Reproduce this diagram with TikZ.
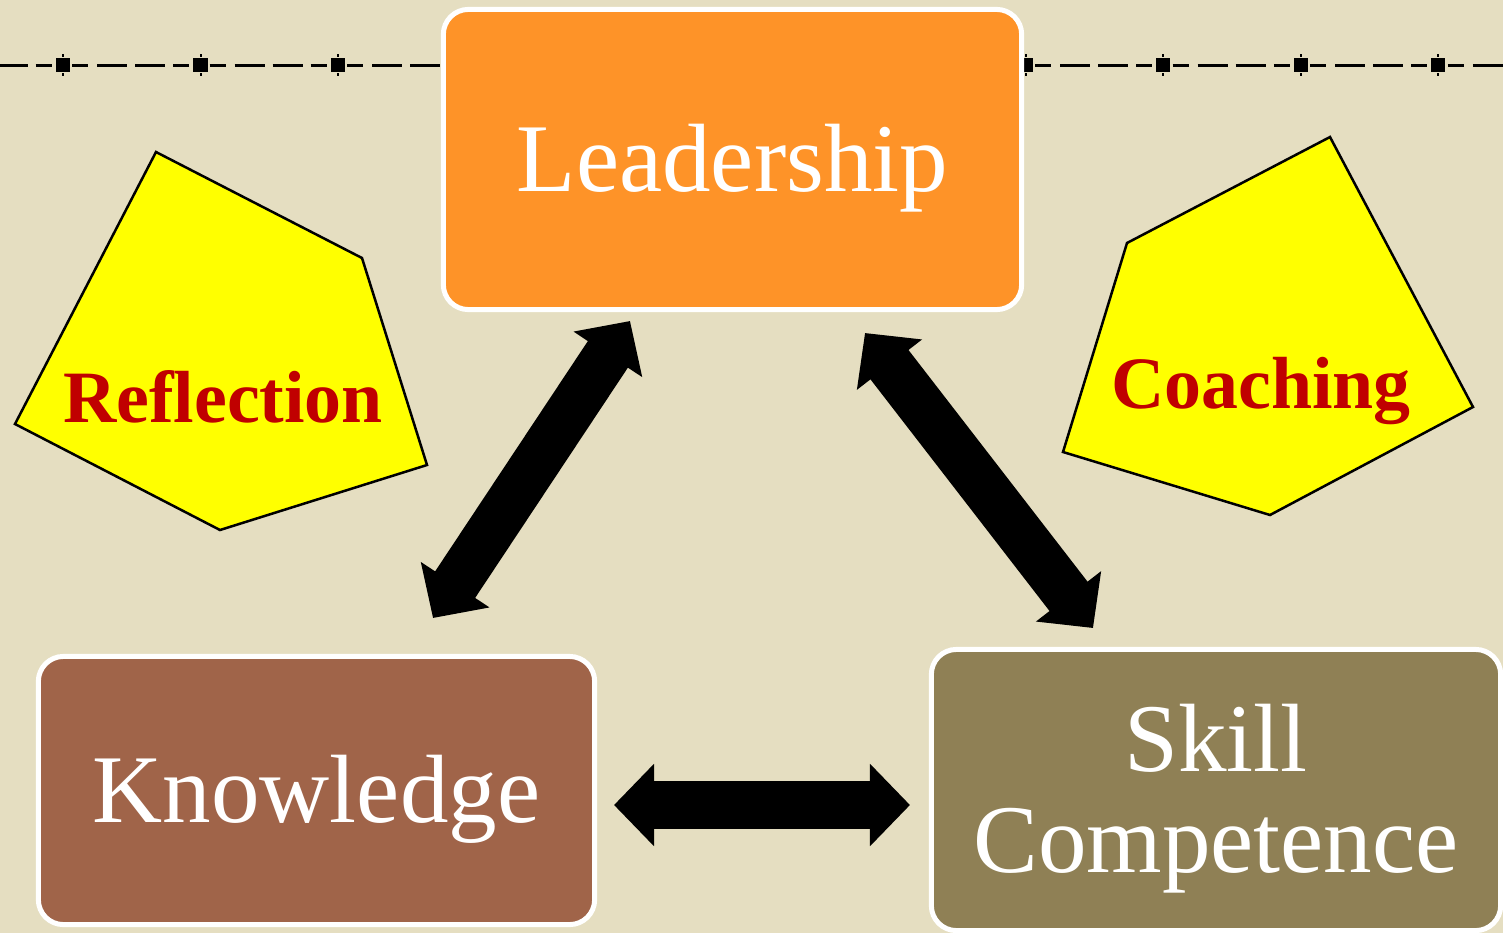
\documentclass[tikz,border=0pt]{standalone}
\usepackage{fontspec}
\setmainfont{Liberation Serif}
\usetikzlibrary{arrows.meta}
\definecolor{paper}{RGB}{229,222,193}
\definecolor{leadorange}{RGB}{254,147,40}
\definecolor{knowbrown}{RGB}{160,100,73}
\definecolor{skillolive}{RGB}{143,128,85}
\definecolor{tagred}{RGB}{192,0,0}
\definecolor{pentyellow}{RGB}{255,255,0}
\tikzset{box/.style={draw=white, line width=0.05cm, rounded corners=0.25cm, text=white, align=center, inner sep=0pt, text depth=1pt, font=\fontsize{27.6}{28.5}\selectfont}}
\tikzset{twoway/.style={line width=0.48cm, {Triangle[width=0.8cm,length=0.4cm]}-{Triangle[width=0.8cm,length=0.4cm]}}}
\tikzset{pentagon/.style={draw=black, line width=0.025cm, fill=pentyellow, line join=miter}}
\tikzset{tag/.style={text=tagred, anchor=base, inner sep=0pt, font=\fontsize{21}{22}\selectfont\bfseries}}
\tikzset{rule/.style={line width=0.03cm, dash pattern=on 0.16cm off 0.09cm on 0.3cm off 0.08cm on 0.3cm off 0.08cm on 0.16cm off 0.205cm, dash phase=0.655cm}}
\tikzset{tick/.style={fill=black, inner sep=0pt, minimum width=0.02cm, minimum height=0.03cm}}
\tikzset{marker/.style={fill=black, inner sep=0pt, minimum size=0.14cm, label distance=0.02cm, label={[tick]above:{}}, label={[tick]below:{}}}}

\begin{document}
\begin{tikzpicture}[x=0.01cm, y=-0.01cm]
	% Page
	\useasboundingbox (0,0) rectangle (1503,933);
	\fill[paper] (0,0) rectangle (1503,933);

	% TOP RULE
	\coordinate (ruleleft) at (0,65);		\coordinate (ruleright) at (1503,65);
	\draw[rule] (ruleleft) -- (ruleright);
	\node[marker] (mk1) at (63,65) {};		\node[marker] (mk2) at (200.5,65) {};	\node[marker] (mk3) at (338,65) {};
	\node[marker] (mk4) at (1025.5,65) {};	\node[marker] (mk5) at (1163,65) {};	\node[marker] (mk6) at (1300.5,65) {};
	\node[marker] (mk7) at (1438,65) {};

	% BOXES
	\node[box, fill=leadorange, minimum width=5.78cm, minimum height=3cm] (lead) at (732.5,159.5) {Leadership};
	\node[box, fill=knowbrown, minimum width=5.56cm, minimum height=2.68cm] (know) at (316.5,790.5) {Knowledge};
	\node[box, fill=skillolive, minimum width=5.69cm, minimum height=2.81cm] (skill) at (1216,790) {Skill\\Competence};

	% PENTAGONS
	\draw[pentagon] (156,152) -- (362,258) -- (427,465) -- (220,530) -- (15,424) -- cycle;
	\node[tag] (refl) at (223,422) {Reflection};
	\draw[pentagon] (1330,137) -- (1473,407) -- (1270,515) -- (1063,452) -- (1127,243) -- cycle;
	\node[tag] (coach) at (1261,408) {Coaching};

	% ARROWS
	\coordinate (lk top) at (630,321);		\coordinate (lk bottom) at (433,618);
	\coordinate (ls top) at (865,333);		\coordinate (ls bottom) at (1093,628);
	\coordinate (ks left) at (614,805);		\coordinate (ks right) at (910,805);
	\draw[twoway] (lk top) -- (lk bottom);
	\draw[twoway] (ls top) -- (ls bottom);
	\draw[twoway] (ks left) -- (ks right);
\end{tikzpicture}
\end{document}
